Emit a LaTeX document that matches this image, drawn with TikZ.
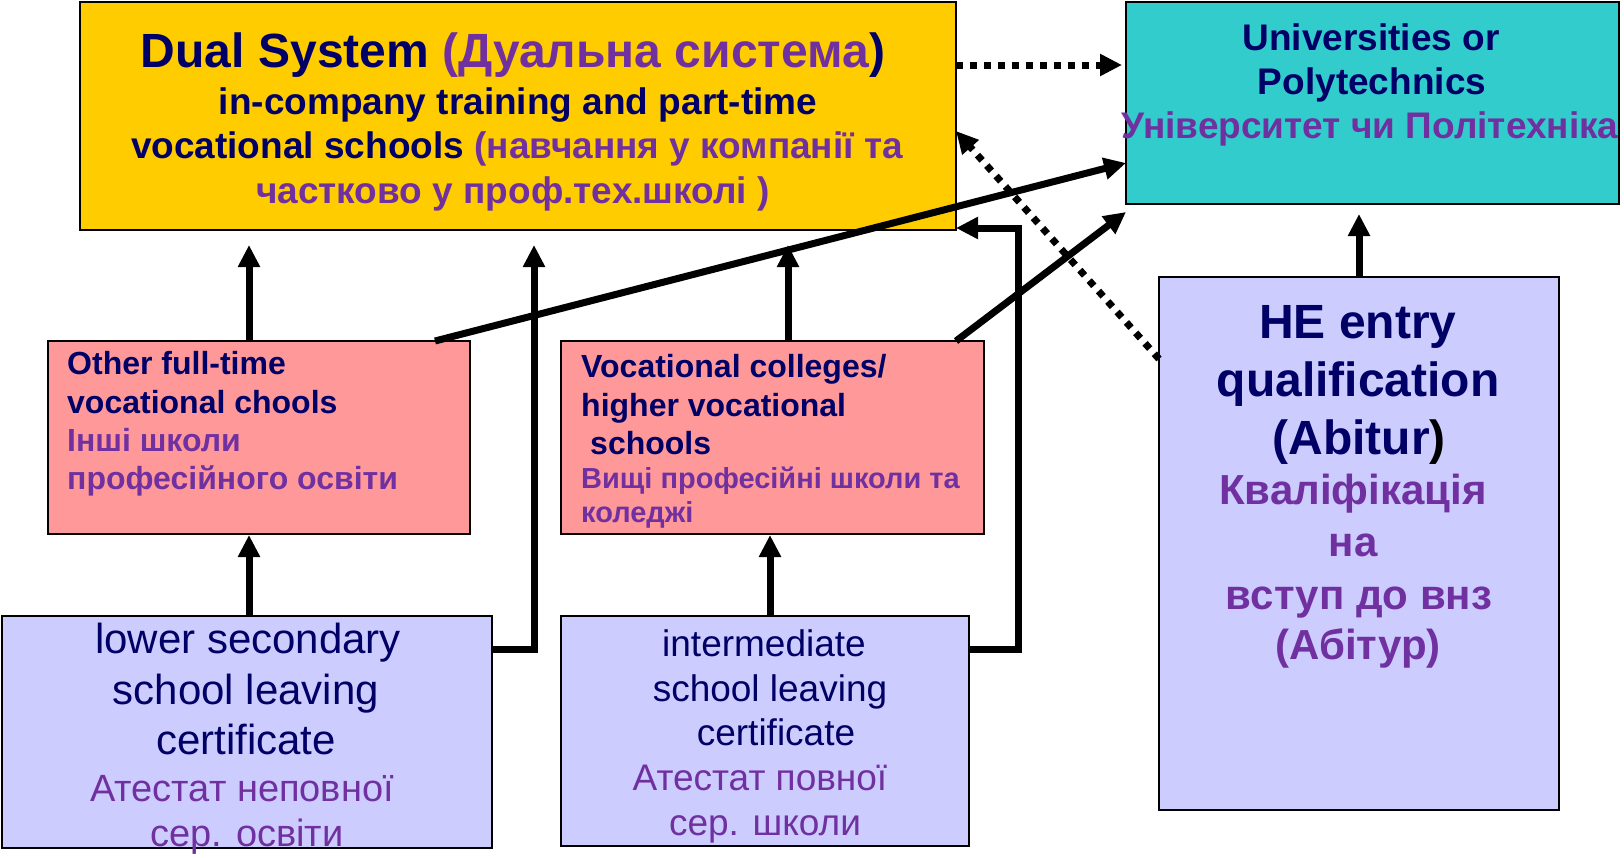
\documentclass[tikz,border=0pt]{standalone}
\usepackage{fontspec}
\setmainfont{Liberation Sans}
\usetikzlibrary{arrows.meta,calc}
\definecolor{navy}{RGB}{0,0,102}
\definecolor{ukr}{RGB}{112,48,160}
\definecolor{dualfill}{RGB}{255,204,0}
\definecolor{unifill}{RGB}{51,204,204}
\definecolor{pinkfill}{RGB}{255,153,153}
\definecolor{lavfill}{RGB}{204,204,255}
\newcommand\fs[1]{\fontsize{#1}{#1}\selectfont}
\begin{document}
\begin{tikzpicture}[x=1pt,y=-1pt,
  box/.style={draw=black, line width=1.5pt, anchor=north west, inner sep=0pt, outer sep=0pt},
  tl/.style={anchor=base, inner sep=0pt},
  tlw/.style={anchor=base west, inner sep=0pt},
  arr/.style={line width=7pt, -{Triangle[length=22pt,width=21pt]}},
  darr/.style={line width=7pt, dash pattern=on 7pt off 7pt, -{Triangle[length=22pt,width=21pt]}}]
\useasboundingbox[fill=white] (0,0) rectangle (1624,857);
% boxes
\node[box, fill=dualfill, minimum width=876pt, minimum height=228pt] (dual) at (80,2) {};
\node[box, fill=unifill, minimum width=493pt, minimum height=202pt] (uni) at (1126,2) {};
\node[box, fill=pinkfill, minimum width=422pt, minimum height=193pt] (other) at (48,341) {};
\node[box, fill=pinkfill, minimum width=423pt, minimum height=193pt] (voc) at (561,341) {};
\node[box, fill=lavfill, minimum width=400pt, minimum height=533pt] (he) at (1159,277) {};
\node[box, fill=lavfill, minimum width=490pt, minimum height=232pt] (ls) at (2,616) {};
\node[box, fill=lavfill, minimum width=408pt, minimum height=230pt] (im) at (561,616) {};
% dual text
\node[tl] (d1) at (513,67) {\fs{48}\bfseries\color{navy}Dual System \textcolor{ukr}{(Дуальна система})};
\node[tl] (d2) at (518,114) {\fs{37}\bfseries\color{navy}in-company training and part-time};
\node[tl] (d3) at (517,158) {\fs{37}\bfseries\color{navy}vocational schools \textcolor{ukr}{(навчання у компанії та}};
\node[tl] (d4) at (513,203) {\fs{37}\bfseries\color{ukr}частково у проф.тех.школі )};
% uni text
\node[tl] (u1) at (1371,50) {\fs{37}\bfseries\color{navy}Universities or};
\node[tl] (u2) at (1372,94) {\fs{37}\bfseries\color{navy}Polytechnics};
\node[tl] (u3) at (1370,138) {\fs{37}\bfseries\color{ukr}Університет чи Політехніка};
% other text
\node[tlw] (o1) at (67,374) {\fs{32}\bfseries\color{navy}Other full-time};
\node[tlw] (o2) at (67,413) {\fs{32}\bfseries\color{navy}vocational chools};
\node[tlw] (o3) at (67,451) {\fs{32}\bfseries\color{ukr}Інші школи};
\node[tlw] (o4) at (67,489) {\fs{32}\bfseries\color{ukr}професійного освіти};
% voc text
\node[tlw] (v1) at (581,377) {\fs{32}\bfseries\color{navy}Vocational colleges/};
\node[tlw] (v2) at (581,416) {\fs{32}\bfseries\color{navy}higher vocational};
\node[tlw] (v3) at (590,454) {\fs{32}\bfseries\color{navy}schools};
\node[tlw] (v4) at (581,488) {\fs{29}\bfseries\color{ukr}Вищі професійні школи та};
\node[tlw] (v5) at (581,522) {\fs{29}\bfseries\color{ukr}коледжі};
% HE text
\node[tl] (h1) at (1358,338) {\fs{48}\bfseries\color{navy}HE entry};
\node[tl] (h2) at (1358,396) {\fs{48}\bfseries\color{navy}qualification};
\node[tl] (h3) at (1359,454) {\fs{48}\bfseries\color{navy}(Abitur\textcolor{black}{)}};
\node[tl] (h4) at (1353,504) {\fs{42}\bfseries\color{ukr}Кваліфікація};
\node[tl] (h5) at (1353,556) {\fs{42}\bfseries\color{ukr}на};
\node[tl] (h6) at (1359,609) {\fs{42}\bfseries\color{ukr}вступ до внз};
\node[tl] (h7) at (1358,659) {\fs{42}\bfseries\color{ukr}(Абітур)};
% lower secondary text
\node[tl] (l1) at (248,653) {\fs{42}\color{navy}lower secondary};
\node[tl] (l2) at (246,704) {\fs{42}\color{navy}school leaving};
\node[tl] (l3) at (246,754) {\fs{42}\color{navy}certificate};
\node[tl] (l4) at (242,801) {\fs{38}\color{ukr}Атестат неповної};
\node[tl] (l5) at (247,846) {\fs{38}\color{ukr}сер. освіти};
% intermediate text
\node[tl] (i1) at (764,656) {\fs{37}\color{navy}intermediate};
\node[tl] (i2) at (770,701) {\fs{37}\color{navy}school leaving};
\node[tl] (i3) at (776,745) {\fs{37}\color{navy}certificate};
\node[tl] (i4) at (760,790) {\fs{37}\color{ukr}Атестат повної};
\node[tl] (i5) at (765,835) {\fs{37}\color{ukr}сер. школи};
% helper coordinates
\coordinate (xa) at (249,0);
\coordinate (xb) at (534,0);
\coordinate (xc) at (788,0);
\coordinate (xd) at (770,0);
\coordinate (ya) at (0,65);
\coordinate (yb) at (0,163);
\coordinate (yc) at (0,359);
\coordinate (yd) at (0,131);
% connectors
\draw[arr, shorten >=15pt] (other.north -| xa) -- (dual.south -| xa);
\draw[arr, shorten >=15pt] (voc.north -| xc) -- (dual.south -| xc);
\draw[arr, shorten >=15pt] ([yshift=-33pt]ls.north east) -| (dual.south -| xb);
\draw[arr] ([yshift=-33pt]im.north east) -- ++(49,0) |- ([yshift=2pt]dual.south east);
\draw[arr, shorten >=1pt] (ls.north -| xa) -- (other.south -| xa);
\draw[arr, shorten >=1pt] (im.north -| xd) -- (voc.south -| xd);
\draw[arr] ([xshift=-35pt]other.north east) -- (uni.west |- yb);
\draw[arr] ([xshift=-28pt]voc.north east) -- ([yshift=-8pt]uni.south west);
\draw[arr, shorten >=10pt] (he.north) -- (uni.south -| he.north);
\draw[darr, shorten >=4pt] (dual.east |- ya) -- (uni.west |- ya);
\draw[darr] (he.west |- yc) -- (dual.east |- yd);
\end{tikzpicture}
\end{document}
